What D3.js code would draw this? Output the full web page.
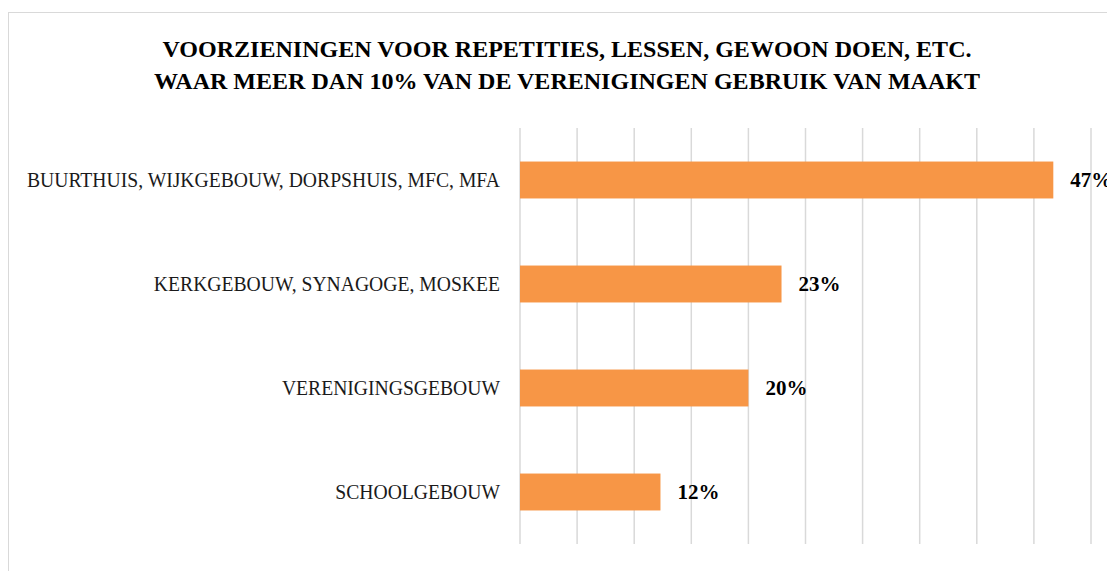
<!DOCTYPE html>
<html>
<head>
<meta charset="utf-8">
<script src="https://d3js.org/d3.v7.min.js"></script>
<style>
  body { margin: 0; background: #fff; }
  svg { display: block; font-family: "Liberation Serif", "DejaVu Serif", serif; }
</style>
</head>
<body>
<svg id="chart" width="1107" height="571"></svg>
<script>
// data
var categories = [
  "BUURTHUIS, WIJKGEBOUW, DORPSHUIS, MFC, MFA",
  "KERKGEBOUW, SYNAGOGE, MOSKEE",
  "VERENIGINGSGEBOUW",
  "SCHOOLGEBOUW"
];
var values = [46.7, 22.9, 20.0, 12.3];
var valueLabels = ["47%", "23%", "20%", "12%"];
var titleLines = [
  "VOORZIENINGEN VOOR REPETITIES, LESSEN, GEWOON DOEN, ETC.",
  "WAAR MEER DAN 10% VAN DE VERENIGINGEN GEBRUIK VAN MAAKT"
];
var gridTicks = d3.range(0, 51, 5);

var svg = d3.select("#chart");

// outer chart border
svg.append("rect")
  .attr("x", 8.5).attr("y", 12.5)
  .attr("width", 1120).attr("height", 600)
  .attr("fill", "none").attr("stroke", "#d9d9d9").attr("stroke-width", 1);

var x = d3.scaleLinear().domain([0, 50]).range([520, 1091]);
var y = d3.scaleBand().domain(categories).range([128, 544]).paddingInner(0.645).paddingOuter(0.3225);

// gridlines
svg.append("g").selectAll("line")
  .data(gridTicks)
  .join("line")
  .attr("x1", d => x(d)).attr("x2", d => x(d))
  .attr("y1", 128).attr("y2", 544)
  .attr("stroke", "#d9d9d9").attr("stroke-width", 1.5);

// bars
svg.append("g").selectAll("rect")
  .data(values)
  .join("rect")
  .attr("x", x(0))
  .attr("y", (d, i) => y(categories[i]))
  .attr("width", d => x(d) - x(0))
  .attr("height", y.bandwidth())
  .attr("fill", "#f79646");

// value labels
svg.append("g").selectAll("text")
  .data(values)
  .join("text")
  .attr("x", d => x(d) + 17)
  .attr("y", (d, i) => y(categories[i]) + y.bandwidth() / 2)
  .attr("dy", "0.35em")
  .attr("font-size", 21)
  .attr("font-weight", "bold")
  .attr("fill", "#000")
  .text((d, i) => valueLabels[i]);

// squeeze text horizontally so the serif face matches the original widths
function fitWidth(sel, firstWidth) {
  var ratio = firstWidth / sel.node().getComputedTextLength();
  sel.each(function () {
    d3.select(this)
      .attr("textLength", this.getComputedTextLength() * ratio)
      .attr("lengthAdjust", "spacingAndGlyphs");
  });
}

// category labels
var cats = svg.append("g").selectAll("text")
  .data(categories)
  .join("text")
  .attr("x", 500)
  .attr("y", d => y(d) + y.bandwidth() / 2)
  .attr("dy", "0.36em")
  .attr("text-anchor", "end")
  .attr("font-size", 20)
  .attr("fill", "#1a1a1a")
  .text(d => d);
fitWidth(cats, 473);

// title
var title = svg.append("g").selectAll("text")
  .data(titleLines)
  .join("text")
  .attr("x", 567)
  .attr("y", (d, i) => 57 + i * 32)
  .attr("text-anchor", "middle")
  .attr("font-size", 24)
  .attr("font-weight", "bold")
  .attr("fill", "#000")
  .text(d => d);
fitWidth(title, 809);
</script>
</body>
</html>
